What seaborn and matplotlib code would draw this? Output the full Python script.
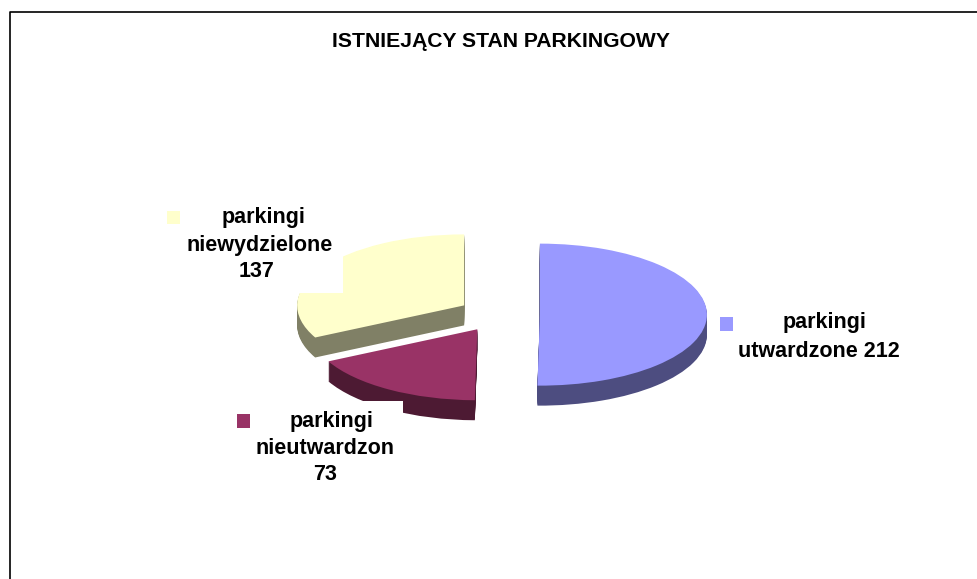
import matplotlib
matplotlib.use("Agg")
import matplotlib.pyplot as plt
import seaborn as sns
from matplotlib.patches import Rectangle

categories = ["parkingi utwardzone", "parkingi nieutwardzon", "parkingi niewydzielone"]
values = [212, 73, 137]
title = "ISTNIEJĄCY STAN PARKINGOWY"

sns.set_theme(style="white")
plt.rcParams["font.family"] = ["Liberation Sans", "DejaVu Sans"]

# the pie is a squashed ellipse, so one data unit is rx pixels across, ry pixels up
W, H = 978, 579
cx, cy = 499, 314.5
rx, ry = 167, 71
depth = 20

def pt(x, y):
    return (x - cx) / rx, (cy - y) / ry

top = sns.color_palette(["#9999FF", "#993366", "#FFFFCC"])
side = sns.color_palette(["#4D4D80", "#4D1A33", "#808066"])

fig, ax = plt.subplots(figsize=(W / 100, H / 100), dpi=100)
fig.subplots_adjust(0, 0, 1, 1)

# stacked dark copies make the wall of the 3d pie
for d in range(depth, 0, -1):
    ax.pie(values, explode=[0.245] * 3, colors=side, startangle=90, counterclock=False,
           center=(0, -d / ry), radius=1, wedgeprops={"linewidth": 0, "zorder": 1})
ax.pie(values, explode=[0.245] * 3, colors=top, startangle=90, counterclock=False,
       center=(0, 0), radius=1, wedgeprops={"linewidth": 0, "zorder": 2})

ax.set_aspect("auto")
ax.set_xlim(pt(0, 0)[0], pt(W, 0)[0])
ax.set_ylim(pt(0, H)[1], pt(0, 0)[1])

def box(x0, y0, x1, y1, **kw):
    xy = pt(x0, y1)
    ax.add_patch(Rectangle(xy, (x1 - x0) / rx, (y1 - y0) / ry, linewidth=0, **kw))

# white label boxes sit on top of the pie and bite into it
box(160, 200, 343, 293, facecolor="white", zorder=3)
box(230, 401, 403, 490, facecolor="white", zorder=3)

# legend keys
box(167, 211, 180, 224, facecolor=top[2], zorder=4)
box(237, 414, 250, 428, facecolor=top[1], zorder=4)
box(720, 317, 733, 331, facecolor=top[0], zorder=4)

labels = [
    (264, 218, "parkingi"), (259.5, 246, "niewydzielone"), (257, 272, "137"),
    (332, 421, "parkingi"), (325, 448, "nieutwardzon"), (325, 475, "73"),
    (825, 323, "parkingi"), (819, 352, "utwardzone 212"),
]
for x, y, s in labels:
    ax.text(*pt(x, y), s, ha="center", va="center", fontsize=15.5, fontweight="bold",
            color="black", zorder=5)
ax.text(*pt(501, 42), title, ha="center", va="center", fontsize=15.2, fontweight="bold",
        color="black", zorder=5)

# chart frame, runs off the bottom of the picture
ax.plot(*zip(pt(9.5, H), pt(9.5, 12.5), pt(978, 12.5)), color="black", linewidth=1.2, zorder=6)

fig.savefig("out.png", dpi=100)
